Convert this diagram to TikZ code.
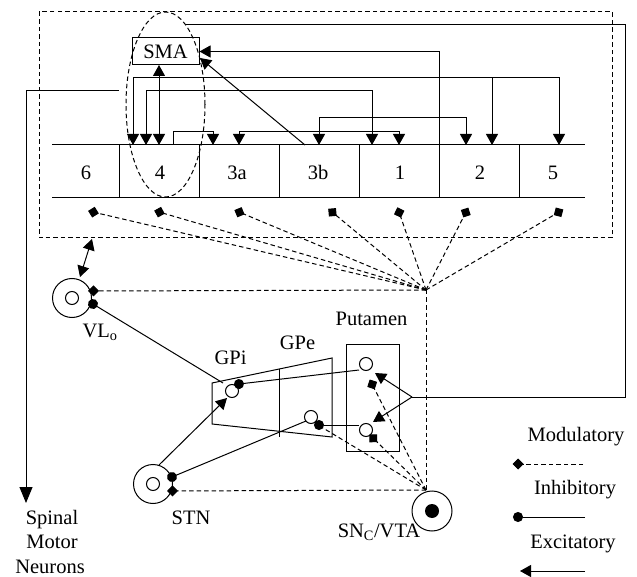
\documentclass[tikz,border=0pt]{standalone}
\usepackage{fontspec}
\setmainfont{Liberation Serif}
\usetikzlibrary{arrows.meta}
\begin{document}
\begin{tikzpicture}[x=1pt,y=-1pt,line width=1pt,
  >={Triangle[length=11pt,width=12pt]},
  lbl/.style={font=\fontsize{20.5}{24}\selectfont,inner sep=0pt},
  dsh/.style={dash pattern=on 4.5pt off 3pt},
  inh/.style={-{Circle[length=10pt]}},
  modl/.style={dsh,-{Diamond[length=11pt,width=11pt]}},
  nucleus/.style={circle,draw,minimum size=39pt,inner sep=0pt},
  soma/.style={circle,draw,minimum size=13pt,inner sep=0pt},
  bigtip/.style={-{Triangle[length=16pt,width=13pt]}}]
\useasboundingbox (0,0) rectangle (637,577);

% ---------------- cortex
\draw[dsh] (39,12) rectangle (612,238);
\draw[dsh] (165.5,104.5) ellipse [x radius=39.5pt, y radius=92.5pt];
\draw (52,145) -- (585,145);
\draw (52,198) -- (585,198);
\foreach \x in {119,199,279,359,439,519} \draw (\x,145) -- (\x,198);
\node[lbl,anchor=base] (a6)  at (86,180)  {6};
\node[lbl,anchor=base] (a4)  at (160,180) {4};
\node[lbl,anchor=base] (a3a) at (237,180) {3a};
\node[lbl,anchor=base] (a3b) at (318,180) {3b};
\node[lbl,anchor=base] (a1)  at (400,180) {1};
\node[lbl,anchor=base] (a2)  at (480,180) {2};
\node[lbl,anchor=base] (a5)  at (553,180) {5};

\node[draw,lbl,minimum width=67pt,minimum height=27pt] (sma) at (165.5,51.5) {SMA};

\coordinate (p12) at (439,145);
\coordinate (p3b) at (305,145);
\coordinate (smaC) at (200,58);
\draw[->] (p12) |- (sma.east);
\draw[->] (p3b) -- (smaC);
\draw[<->] (159,65) -- (159,145);

\draw[<->] (133,145) -- (133,78) -- (559,78) -- (559,145);
\draw[->] (492,78) -- (492,145);
\draw[<->] (146,145) -- (146,91) -- (372,91) -- (372,145);
\draw[->] (173,145) -- (173,132) -- (213,132) -- (213,145);
\draw[<->] (239,145) -- (239,132) -- (399,132) -- (399,145);
\draw[<->] (319,145) -- (319,118) -- (466,118) -- (466,145);

% spinal output
\coordinate (smaL) at (119,91);
\coordinate (spinal) at (26,503);
\draw[bigtip] (smaL) -- (26,91) -- (spinal);
\node[lbl,anchor=base] (sp1) at (52,524) {Spinal};
\node[lbl,anchor=base] (sp2) at (52,548) {Motor};
\node[lbl,anchor=base] (sp3) at (50,573) {Neurons};

% big loop to putamen
\coordinate (e4top) at (185.7,25);
\coordinate (loopend) at (412,397);
\draw (e4top) -- (625,25) -- (625,397) -- (loopend);

% ---------------- modulatory hub
\coordinate (hub) at (426,290);
\coordinate (m1) at (88.1,210.9);
\coordinate (m2) at (154.2,210.6);
\coordinate (m3) at (234.4,210.1);
\coordinate (m4) at (328.2,208.8);
\coordinate (m5) at (397.4,207.3);
\coordinate (m6) at (468.3,207.6);
\coordinate (m7) at (563.3,209.5);
\foreach \m in {m1,m2,m3,m4,m5,m6,m7} \draw[modl] (hub) -- (\m);

% ---------------- VLo
\node[nucleus] (vlo) at (72,298) {};
\node[soma] (vloc) at (72,298) {};
\node[lbl,anchor=base west] (vlolab) at (82,337) {VL\textsubscript{o}};
\coordinate (vlomod) at (88,291);
\draw[modl] (hub) -- (vlomod);
\coordinate (ctxb) at (92,239);
\coordinate (vlotop) at (80,277);
\draw[<->] (ctxb) -- (vlotop);

% ---------------- GPi / GPe
\draw (212,383) -- (332,358) -- (332,437) -- (212,424) -- cycle;
\draw (279,369) -- (279,437);
\node[lbl,anchor=base] (gpilab) at (230.5,364) {GPi};
\node[lbl,anchor=base] (gpelab) at (297.5,349) {GPe};
\node[soma] (gpi) at (232,391) {};
\node[soma] (gpe) at (311,417) {};

% ---------------- Putamen
\draw (346,344) rectangle (399,451);
\node[lbl,anchor=base] (putlab) at (371.5,325) {Putamen};
\node[soma] (put1) at (366,364) {};
\node[soma] (put2) at (366,430) {};
\draw[->] (loopend) -- (375,373);
\draw[->] (loopend) -- (373,422);

% ---------------- STN
\node[nucleus] (stn) at (153,484) {};
\node[soma] (stnc) at (153,484) {};
\node[lbl,anchor=base] (stnlab) at (191,524) {STN};

% ---------------- SNc / VTA
\node[nucleus,minimum size=40pt] (sn) at (432,511) {};
\node[circle,fill,minimum size=14pt,inner sep=0pt] (snc) at (432,511) {};
\node[lbl,anchor=base] (snlab) at (379,537) {SN\textsubscript{C}/VTA};
\coordinate (snhub) at (426,490);
\draw[dsh] (hub) -- (snhub);
\draw[modl] (snhub) -- (167,491);
\draw[modl] (snhub) -- (369.7,379.5);
\draw[modl] (snhub) -- (369.4,434.5);
\draw[dsh] (snhub) -- (323,428);

% ---------------- connections
\draw[inh] (223,383) -- (88.7,301.4);
\draw[inh] (359,370) -- (234,384.6);
\draw[inh] (359,425) -- (314,425);
\draw[inh] (306,421) -- (167.4,478.9);
\draw[->] (159,465) -- (227,398);

% ---------------- legend
\node[lbl,anchor=base] (lmod) at (576,441) {Modulatory};
\draw[modl] (583,464) -- (512.5,464);
\node[lbl,anchor=base] (linh) at (575,494) {Inhibitory};
\draw[inh] (585,517) -- (513,517);
\node[lbl,anchor=base] (lexc) at (573,548) {Excitatory};
\draw[->] (585,571) -- (520,571);
\end{tikzpicture}
\end{document}
